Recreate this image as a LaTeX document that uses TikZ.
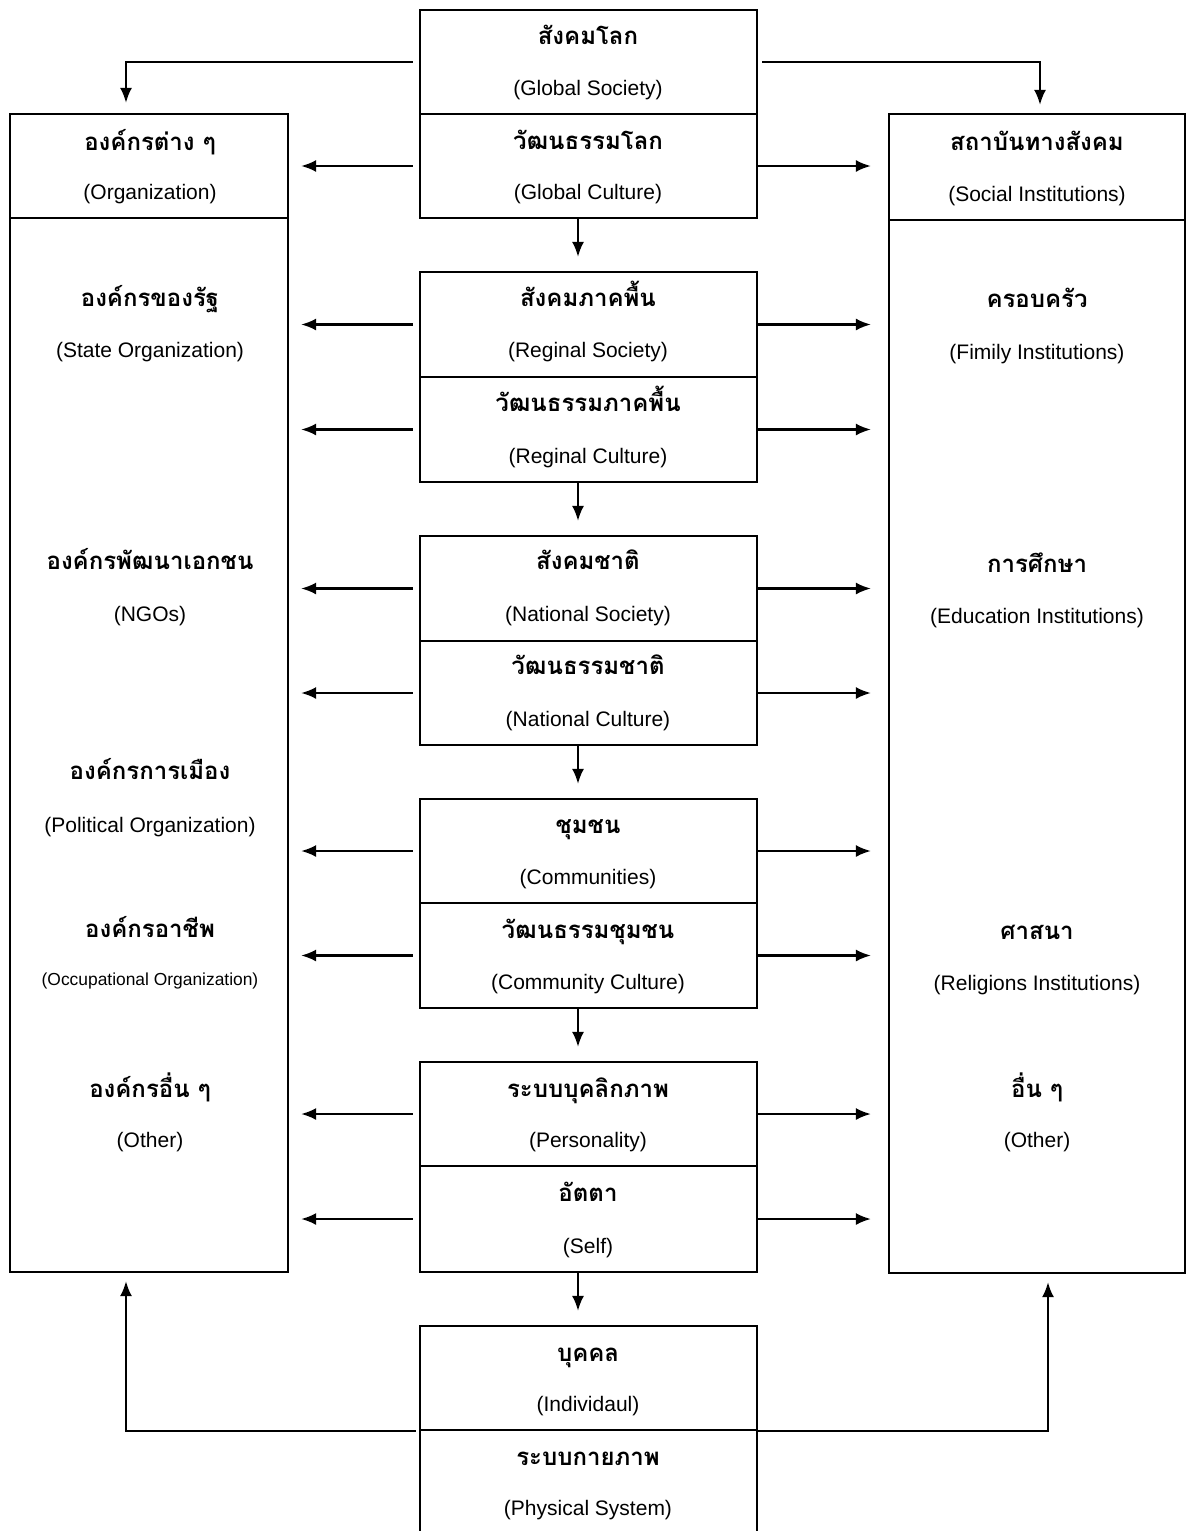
\documentclass[tikz,border=0pt]{standalone}
\usepackage{fontspec}
\setmainfont{Liberation Sans}
\newfontfamily\thai[Script=Thai]{Loma}
\usetikzlibrary{arrows.meta}

\tikzset{
  box/.style={draw,line width=1.1pt,inner sep=0pt},
  cell/.style={box,minimum width=168.5pt,minimum height=52pt},
  th/.style={font=\thai\bfseries\fontsize{12}{14}\selectfont,inner sep=0pt,text height=8pt,text depth=2pt,yshift=-1.5pt},
  en/.style={font=\fontsize{10.5}{12}\selectfont,inner sep=0pt,yshift=-1.5pt},
  arr/.style={line width=1.1pt,-{Latex[length=7.5pt,width=6pt]}},
  ln/.style={line width=1.1pt}
}

\begin{document}
\begin{tikzpicture}[x=0.5pt,y=-0.5pt]
\useasboundingbox (0,0) rectangle (1188,1531);

% middle column
\node[cell] (gsoc) at (588.5,62) {};
\node[cell] (gcul) at (588.5,166) {};
\node[cell,minimum height=52.5pt] (rsoc) at (588.5,324.5) {};
\node[cell,minimum height=52.5pt] (rcul) at (588.5,429.5) {};
\node[cell,minimum height=52.5pt] (nsoc) at (588.5,588.5) {};
\node[cell] (ncul) at (588.5,693) {};
\node[cell] (csoc) at (588.5,851) {};
\node[cell,minimum height=52.5pt] (ccul) at (588.5,955.5) {};
\node[cell] (pers) at (588.5,1114) {};
\node[cell,minimum height=53pt] (self) at (588.5,1219) {};
\node[cell] (indiv) at (588.5,1378) {};
\node[cell] (phys) at (588.5,1482) {};

\node[th] (gsocTh) at (588,35) {สังคมโลก};
\node[en] (gsocEn) at (588,87) {(Global Society)};
\node[th] (gculTh) at (588,140) {วัฒนธรรมโลก};
\node[en] (gculEn) at (588,191) {(Global Culture)};
\node[th] (rsocTh) at (588,297) {สังคมภาคพื้น};
\node[en] (rsocEn) at (588,349) {(Reginal Society)};
\node[th] (rculTh) at (588,402) {วัฒนธรรมภาคพื้น};
\node[en] (rculEn) at (588,455) {(Reginal Culture)};
\node[th] (nsocTh) at (588,560) {สังคมชาติ};
\node[en] (nsocEn) at (588,613) {(National Society)};
\node[th] (nculTh) at (588,665) {วัฒนธรรมชาติ};
\node[en] (nculEn) at (588,718) {(National Culture)};
\node[th] (csocTh) at (588,824) {ชุมชน};
\node[en] (csocEn) at (588,876) {(Communities)};
\node[th] (cculTh) at (588,929) {วัฒนธรรมชุมชน};
\node[en] (cculEn) at (588,981) {(Community Culture)};
\node[th] (persTh) at (588,1088) {ระบบบุคลิกภาพ};
\node[en] (persEn) at (588,1139) {(Personality)};
\node[th] (selfTh) at (588,1192) {อัตตา};
\node[en] (selfEn) at (588,1245) {(Self)};
\node[th] (indivTh) at (588,1352) {บุคคล};
\node[en] (indivEn) at (588,1403) {(Individaul)};
\node[th] (physTh) at (588,1456) {ระบบกายภาพ};
\node[en] (physEn) at (588,1507) {(Physical System)};

% left column
\node[box,minimum width=139pt,minimum height=52pt] (org) at (149,166) {};
\node[box,minimum width=139pt,minimum height=527pt] (orgbody) at (149,745) {};
\node[th] (orgTh) at (150,141) {องค์กรต่าง ๆ};
\node[en] (orgEn) at (150,191) {(Organization)};
\node[th] (stateTh) at (150,297) {องค์กรของรัฐ};
\node[en] (stateEn) at (150,349) {(State Organization)};
\node[th] (ngoTh) at (150,560) {องค์กรพัฒนาเอกชน};
\node[en] (ngoEn) at (150,613) {(NGOs)};
\node[th] (polTh) at (150,770) {องค์กรการเมือง};
\node[en] (polEn) at (150,824) {(Political Organization)};
\node[th] (occTh) at (150,928) {องค์กรอาชีพ};
\node[en,font=\fontsize{8.7}{10}\selectfont] (occEn) at (150,978) {(Occupational Organization)};
\node[th] (othTh) at (150,1088) {องค์กรอื่น ๆ};
\node[en] (othEn) at (150,1139) {(Other)};

% right column
\node[box,minimum width=148pt,minimum height=53pt] (inst) at (1037,167) {};
\node[box,minimum width=148pt,minimum height=526.5pt] (instbody) at (1037,746.5) {};
\node[th] (instTh) at (1037,141) {สถาบันทางสังคม};
\node[en] (instEn) at (1037,193) {(Social Institutions)};
\node[th] (famTh) at (1037,298) {ครอบครัว};
\node[en] (famEn) at (1037,351) {(Fimily Institutions)};
\node[th] (eduTh) at (1037,563) {การศึกษา};
\node[en] (eduEn) at (1037,615) {(Education Institutions)};
\node[th] (relTh) at (1037,930) {ศาสนา};
\node[en] (relEn) at (1037,982) {(Religions Institutions)};
\node[th] (oth2Th) at (1037,1088) {อื่น ๆ};
\node[en] (oth2En) at (1037,1139) {(Other)};

% top links
\draw[arr,shorten <=3pt,shorten >=5pt] (gsoc.west) -| ([xshift=-11.5pt]org.north);
\draw[arr,shorten <=2pt,shorten >=4pt] (gsoc.east) -| ([xshift=1.5pt]inst.north);
\draw[arr,shorten <=3pt,shorten >=6pt] (gcul.west) -- (org.east |- gcul.west);
\draw[arr,shorten >=8.5pt] (gcul.east) -- (inst.west |- gcul.east);

% down the middle
\draw[arr,shorten >=7pt] (gcul.south -| 578,0) -- (rsoc.north -| 578,0);
\draw[arr,shorten >=7pt] (rcul.south -| 578,0) -- (nsoc.north -| 578,0);
\draw[arr,shorten >=7pt] (ncul.south -| 578,0) -- (csoc.north -| 578,0);
\draw[arr,shorten >=7pt] (ccul.south -| 578,0) -- (pers.north -| 578,0);
\draw[arr,shorten >=7pt] (self.south -| 578,0) -- (indiv.north -| 578,0);

% sideways
\draw[arr,shorten <=3pt,shorten >=6pt] (rsoc.west) -- (orgbody.east |- rsoc.west);
\draw[arr,shorten <=3pt,shorten >=6pt] (rcul.west) -- (orgbody.east |- rcul.west);
\draw[arr,shorten <=3pt,shorten >=6pt] (nsoc.west) -- (orgbody.east |- nsoc.west);
\draw[arr,shorten <=3pt,shorten >=6pt] (ncul.west) -- (orgbody.east |- ncul.west);
\draw[arr,shorten <=3pt,shorten >=6pt] (csoc.west) -- (orgbody.east |- csoc.west);
\draw[arr,shorten <=3pt,shorten >=6pt] (ccul.west) -- (orgbody.east |- ccul.west);
\draw[arr,shorten <=3pt,shorten >=6pt] (pers.west) -- (orgbody.east |- pers.west);
\draw[arr,shorten <=3pt,shorten >=6pt] (self.west) -- (orgbody.east |- self.west);
\draw[arr,shorten >=8.5pt] (rsoc.east) -- (instbody.west |- rsoc.east);
\draw[arr,shorten >=8.5pt] (rcul.east) -- (instbody.west |- rcul.east);
\draw[arr,shorten >=8.5pt] (nsoc.east) -- (instbody.west |- nsoc.east);
\draw[arr,shorten >=8.5pt] (ncul.east) -- (instbody.west |- ncul.east);
\draw[arr,shorten >=8.5pt] (csoc.east) -- (instbody.west |- csoc.east);
\draw[arr,shorten >=8.5pt] (ccul.east) -- (instbody.west |- ccul.east);
\draw[arr,shorten >=8.5pt] (pers.east) -- (instbody.west |- pers.east);
\draw[arr,shorten >=8.5pt] (self.east) -- (instbody.west |- self.east);

% bottom links
\draw[arr,shorten <=1.5pt,shorten >=4pt] (indiv.south west) -| ([xshift=-11.5pt]orgbody.south);
\draw[arr,shorten >=4pt] (indiv.south east) -| ([xshift=5.5pt]instbody.south);
\end{tikzpicture}
\end{document}
